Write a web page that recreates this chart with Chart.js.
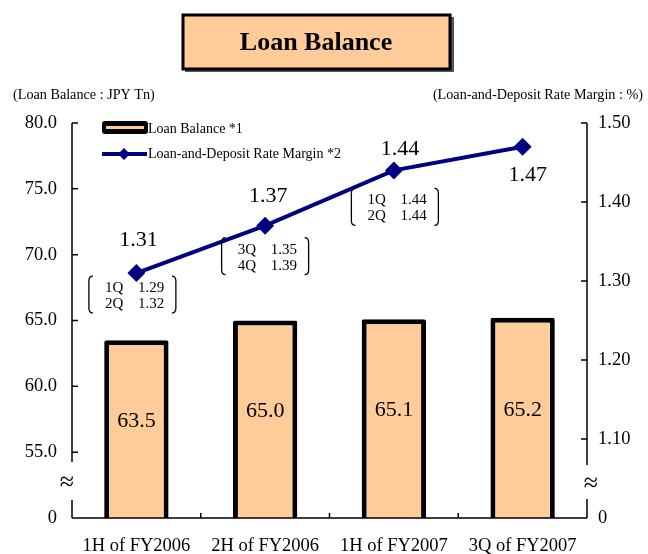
<!DOCTYPE html>
<html>
<head>
<meta charset="utf-8">
<script src="https://cdn.jsdelivr.net/npm/chart.js@4.4.1/dist/chart.umd.min.js"></script>
<style>
  html, body { margin: 0; padding: 0; background: #fff; }
  #wrap { width: 648px; height: 554px; position: relative; }
</style>
</head>
<body>
<div id="wrap"><canvas id="c" width="648" height="554"></canvas></div>
<script>
// ---- data ----
const categories = ["1H of FY2006", "2H of FY2006", "1H of FY2007", "3Q of FY2007"];
const loanBalance = [63.5, 65.0, 65.1, 65.2];
const rateMargin = [1.31, 1.37, 1.44, 1.47];
const quarterNotes = [
  [["1Q", "1.29"], ["2Q", "1.32"]],
  [["3Q", "1.35"], ["4Q", "1.39"]],
  [["1Q", "1.44"], ["2Q", "1.44"]],
  null
];
const leftAxis = { min: 50, max: 80, step: 5, zeroLabelAt: 50 };
const rightAxis = { min: 1.0, max: 1.5, step: 0.1, zeroLabelAt: 1.0 };
const breakLeft = [51.37, 54.25];
const breakRight = [1.024, 1.067];

const titleText = "Loan Balance";
const leftTitle = "(Loan Balance : JPY Tn)";
const rightTitle = "(Loan-and-Deposit Rate Margin : %)";
const legendLabels = ["Loan Balance *1", "Loan-and-Deposit Rate Margin *2"];

// ---- style / layout ----
const SERIF = "'Liberation Serif', 'Times New Roman', serif";
const BAR_FILL = "#FFCC99";
const LINE_COLOR = "#000080";
const lineLabelOffsets = [[2, -33], [3, -29], [6, -21], [5, 29]];
const noteOffsets = [[-4, 3], [0, 12], [1, 18], null];

const overlay = {
  id: 'overlay',
  afterDraw(chart) {
    const ctx = chart.ctx;
    const ca = chart.chartArea;
    const xS = chart.scales.x, yS = chart.scales.y, y1S = chart.scales.y1;
    ctx.save();

    // title box
    ctx.fillStyle = "#555";
    ctx.fillRect(185, 17, 269, 55);
    ctx.fillStyle = BAR_FILL;
    ctx.fillRect(183, 15, 267, 54);
    ctx.lineWidth = 3;
    ctx.strokeStyle = "#000";
    ctx.strokeRect(183, 15, 267, 54);
    ctx.fillStyle = "#000";
    ctx.font = "bold 26px " + SERIF;
    ctx.textAlign = "center";
    ctx.textBaseline = "middle";
    ctx.fillText(titleText, 316, 43);

    // axis titles
    ctx.font = "14.2px " + SERIF;
    ctx.textAlign = "left";
    ctx.fillText(leftTitle, 13, 95);
    ctx.textAlign = "right";
    ctx.fillText(rightTitle, 643, 95);

    // axis lines with breaks
    ctx.strokeStyle = "#000";
    ctx.lineWidth = 1.5;
    ctx.beginPath();
    ctx.moveTo(ca.left, ca.top);
    ctx.lineTo(ca.left, yS.getPixelForValue(breakLeft[1]));
    ctx.moveTo(ca.left, yS.getPixelForValue(breakLeft[0]));
    ctx.lineTo(ca.left, ca.bottom);
    ctx.moveTo(ca.right, ca.top);
    ctx.lineTo(ca.right, y1S.getPixelForValue(breakRight[1]));
    ctx.moveTo(ca.right, y1S.getPixelForValue(breakRight[0]));
    ctx.lineTo(ca.right, ca.bottom);
    ctx.moveTo(ca.left, ca.bottom);
    ctx.lineTo(ca.right, ca.bottom);
    // x ticks (inward) at category boundaries
    for (let i = 1; i < categories.length; i++) {
      const bx = (xS.getPixelForValue(i - 1) + xS.getPixelForValue(i)) / 2;
      ctx.moveTo(bx, ca.bottom);
      ctx.lineTo(bx, ca.bottom - 5);
    }
    // y ticks (inward)
    yS.ticks.forEach(t => {
      if (t.value === leftAxis.zeroLabelAt) return;
      const py = yS.getPixelForValue(t.value);
      ctx.moveTo(ca.left, py);
      ctx.lineTo(ca.left + 6, py);
    });
    y1S.ticks.forEach(t => {
      if (Math.abs(t.value - rightAxis.zeroLabelAt) < 1e-9) return;
      const py = y1S.getPixelForValue(t.value);
      ctx.moveTo(ca.right, py);
      ctx.lineTo(ca.right - 6, py);
    });
    ctx.stroke();

    ctx.font = "26px " + SERIF;
    ctx.textAlign = "center";
    ctx.fillText("\u2248", ca.left - 5, yS.getPixelForValue((breakLeft[0] + breakLeft[1]) / 2) + 2);
    ctx.fillText("\u2248", ca.right + 4, y1S.getPixelForValue((breakRight[0] + breakRight[1]) / 2) + 2);

    // bar labels
    ctx.font = "22px " + SERIF;
    loanBalance.forEach((v, i) => {
      const x = xS.getPixelForValue(i);
      const y = yS.getPixelForValue((v + leftAxis.min) / 2 + 0.6);
      ctx.fillText(v.toFixed(1), x, y);
    });

    // line labels
    const lineMeta = chart.getDatasetMeta(0);
    rateMargin.forEach((v, i) => {
      const pt = lineMeta.data[i];
      const o = lineLabelOffsets[i];
      ctx.fillText(v.toFixed(2), pt.x + o[0], pt.y + o[1]);
    });

    // quarter notes in brackets
    ctx.font = "15px " + SERIF;
    ctx.lineWidth = 1.3;
    quarterNotes.forEach((note, i) => {
      if (!note) return;
      const pt = lineMeta.data[i];
      const o = noteOffsets[i];
      const w = 89, h = 37;
      const left = pt.x + o[0] - w / 2, top = pt.y + o[1];
      const right = left + w, bottom = top + h;
      ctx.beginPath();
      ctx.moveTo(left + 5, top);
      ctx.quadraticCurveTo(left + 1, top, left + 1, top + 5);
      ctx.lineTo(left + 1, bottom - 5);
      ctx.quadraticCurveTo(left + 1, bottom, left + 5, bottom);
      ctx.moveTo(right - 5, top);
      ctx.quadraticCurveTo(right - 1, top, right - 1, top + 5);
      ctx.lineTo(right - 1, bottom - 5);
      ctx.quadraticCurveTo(right - 1, bottom, right - 5, bottom);
      ctx.stroke();
      ctx.textAlign = "left";
      note.forEach((row, r) => {
        const ty = top + 12 + r * 16;
        ctx.fillText(row[0], left + 17, ty);
        ctx.fillText(row[1], left + 50, ty);
      });
    });

    // legend
    ctx.textAlign = "left";
    ctx.font = "14px " + SERIF;
    ctx.fillStyle = "#000";
    ctx.beginPath();
    ctx.roundRect(102, 121, 46, 13, 3);
    ctx.fill();
    ctx.fillStyle = BAR_FILL;
    ctx.fillRect(106, 126, 38, 3);
    ctx.fillStyle = "#000";
    ctx.fillText(legendLabels[0], 148, 129);
    ctx.strokeStyle = LINE_COLOR;
    ctx.lineWidth = 4;
    ctx.beginPath();
    ctx.moveTo(102, 154);
    ctx.lineTo(147, 154);
    ctx.stroke();
    ctx.fillStyle = LINE_COLOR;
    ctx.beginPath();
    ctx.moveTo(124, 148); ctx.lineTo(130, 154); ctx.lineTo(124, 160); ctx.lineTo(118, 154);
    ctx.closePath();
    ctx.fill();
    ctx.fillStyle = "#000";
    ctx.fillText(legendLabels[1], 148, 154);

    ctx.restore();
  }
};

Chart.defaults.font.family = SERIF;
Chart.defaults.color = "#000";

new Chart(document.getElementById('c'), {
  type: 'bar',
  data: {
    labels: categories,
    datasets: [
      {
        type: 'line',
        data: rateMargin,
        yAxisID: 'y1',
        order: 0,
        borderColor: LINE_COLOR,
        backgroundColor: LINE_COLOR,
        borderWidth: 4,
        pointStyle: 'rectRot',
        pointRadius: 9,
        pointBorderWidth: 0,
        tension: 0
      },
      {
        type: 'bar',
        data: loanBalance,
        yAxisID: 'y',
        order: 1,
        backgroundColor: BAR_FILL,
        borderColor: "#000",
        borderWidth: 5,
        borderRadius: 2,
        borderSkipped: false,
        barPercentage: 0.5,
        categoryPercentage: 1.0
      }
    ]
  },
  options: {
    responsive: false,
    animation: false,
    layout: { padding: { top: 123, left: 0, right: 0, bottom: 0 } },
    plugins: { legend: { display: false }, tooltip: { enabled: false } },
    scales: {
      x: {
        grid: { display: false },
        border: { display: false },
        ticks: { font: { size: 18.5 }, color: "#000", padding: 9 },
        afterFit(s) { s.height = 36; }
      },
      y: {
        position: 'left',
        min: leftAxis.min, max: leftAxis.max,
        border: { display: false },
        grid: { drawOnChartArea: false, drawTicks: false },
        ticks: {
          stepSize: leftAxis.step, font: { size: 18.5 }, color: "#000", padding: 15,
          callback: (v) => v === leftAxis.zeroLabelAt ? "0" : Number(v).toFixed(1)
        },
        afterFit(s) { s.width = 72; }
      },
      y1: {
        position: 'right',
        min: rightAxis.min, max: rightAxis.max,
        border: { display: false },
        grid: { drawOnChartArea: false, drawTicks: false },
        ticks: {
          stepSize: rightAxis.step, font: { size: 18.5 }, color: "#000", padding: 11,
          callback: (v) => Math.abs(v - rightAxis.zeroLabelAt) < 1e-9 ? "0" : Number(v).toFixed(2)
        },
        afterFit(s) { s.width = 61; }
      }
    }
  },
  plugins: [overlay]
});
</script>
</body>
</html>
